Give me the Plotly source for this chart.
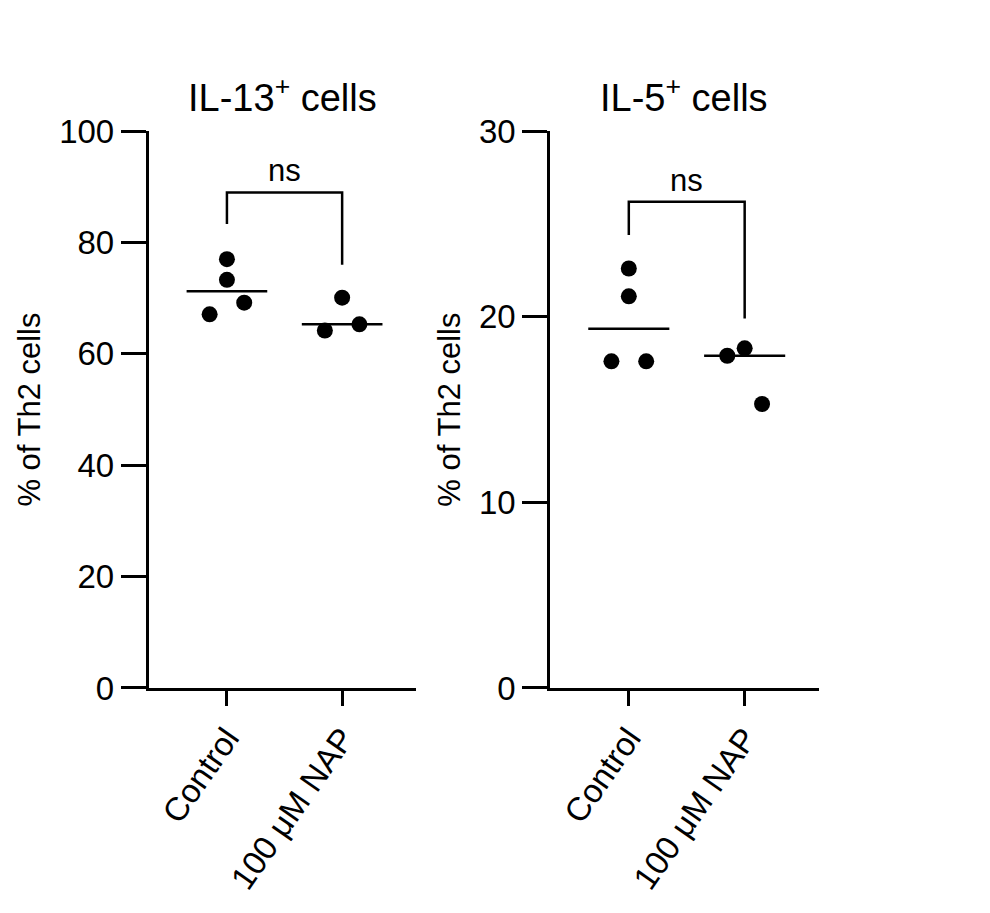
import numpy as np
import plotly.graph_objects as go

groups = ["Control", "100 μM NAP"]
il13_control = [77.0, 73.3, 67.1, 69.2]
il13_nap = [70.1, 64.2, 65.3]
il5_control = [22.6, 21.1, 17.6, 17.6]
il5_nap = [18.3, 17.9, 15.3]
# horizontal jitter of the dots (category units)
jit_control = [0, 0, -0.15, 0.15]
jit_nap = [0, -0.15, 0.15]

FONT = "Liberation Sans, Arial, sans-serif"
fig = go.Figure()

panels = [
    ("x", "y", il13_control, il13_nap, [0, 100], [0, 20, 40, 60, 80, 100], "IL-13<sup>+</sup> cells", (89, 83.3, 76)),
    ("x2", "y2", il5_control, il5_nap, [0, 30], [0, 10, 20, 30], "IL-5<sup>+</sup> cells", (26.2, 24.4, 19.9)),
]

for xa, ya, ctrl, nap, rng, ticks, title, br in panels:
    for i, (vals, jit) in enumerate([(ctrl, jit_control), (nap, jit_nap)]):
        fig.add_trace(go.Scatter(x=[i + j for j in jit], y=vals, mode="markers",
                                 marker=dict(color="black", size=16), xaxis=xa, yaxis=ya,
                                 showlegend=False))
        med = float(np.median(vals))
        fig.add_trace(go.Scatter(x=[i - 0.35, i + 0.35], y=[med, med], mode="lines",
                                 line=dict(color="black", width=2.5), xaxis=xa, yaxis=ya,
                                 showlegend=False))
    top, lb, rb = br
    fig.add_trace(go.Scatter(x=[0, 0, 1, 1], y=[lb, top, top, rb], mode="lines",
                             line=dict(color="black", width=2.5), xaxis=xa, yaxis=ya,
                             showlegend=False))
    fig.add_annotation(x=0.5, y=top, xref=xa, yref=ya, text="ns", showarrow=False,
                       yanchor="bottom", yshift=2, font=dict(size=31, color="black", family=FONT))
    fig.add_annotation(x=0.5, y=1.0, xref=xa + " domain", yref="paper", text=title,
                       showarrow=False, yanchor="bottom", yshift=-95,
                       font=dict(size=38, color="black", family=FONT))

axis_common = dict(showline=True, linecolor="black", linewidth=2.5, ticks="outside",
                   ticklen=25, tickwidth=2.5, tickcolor="black", showgrid=False, zeroline=False,
                   tickfont=dict(size=33, color="black", family=FONT))

for n, dom in [("", [0.142, 0.412]), ("2", [0.5475, 0.819])]:
    fig.update_layout(**{
        "xaxis" + n: dict(axis_common, domain=dom, range=[-0.68, 1.64], tickvals=[0, 1],
                          ticktext=groups, tickangle=-55, ticklen=15, anchor="y" + n),
        "yaxis" + n: dict(axis_common, domain=[0.2443, 0.88], anchor="x" + n,
                          range=panels[0 if n == "" else 1][4],
                          tickvals=panels[0 if n == "" else 1][5],
                          title=dict(text="% of Th2 cells", standoff=10,
                                     font=dict(size=31, color="black", family=FONT))),
    })

fig.update_layout(width=990, height=913, margin=dict(l=0, r=0, t=0, b=0),
                  plot_bgcolor="white", paper_bgcolor="white")
fig.write_html("out.html")
